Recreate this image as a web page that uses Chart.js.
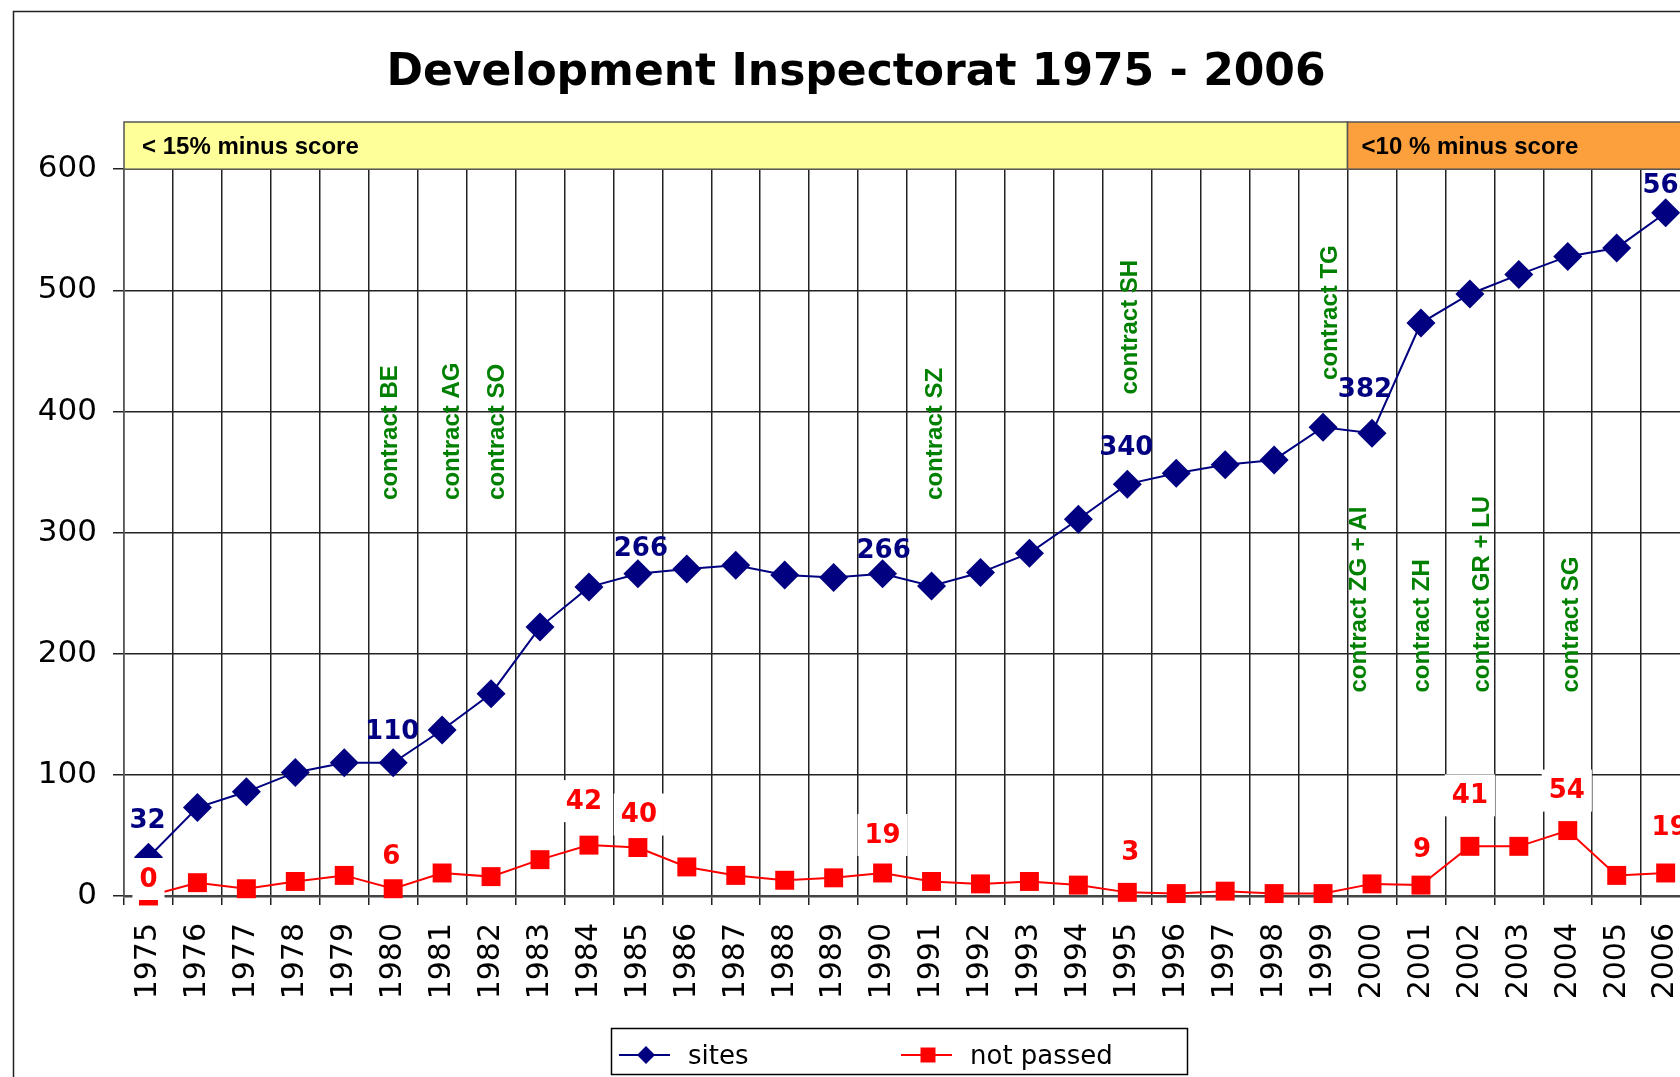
<!DOCTYPE html>
<html>
<head>
<meta charset="utf-8">
<title>Development Inspectorat 1975 - 2006</title>
<script src="https://cdn.jsdelivr.net/npm/chart.js@4.4.1/dist/chart.umd.min.js"></script>
<style>
  html, body { margin: 0; padding: 0; background: #fff; overflow: hidden; }
  #chart { display: block; }
</style>
</head>
<body>
<canvas id="chart" width="1720" height="1120"></canvas>
<script>
// ---- data ----
const years = ['1975', '1976', '1977', '1978', '1979', '1980', '1981', '1982', '1983', '1984',
  '1985', '1986', '1987', '1988', '1989', '1990', '1991', '1992', '1993', '1994', '1995',
  '1996', '1997', '1998', '1999', '2000', '2001', '2002', '2003', '2004', '2005', '2006'];
const sites = [32, 73, 86, 102, 110, 110, 137, 167, 222, 255, 266, 270, 273, 265, 263, 266,
  256, 267, 283, 311, 340, 349, 356, 360, 387, 382, 473, 497, 513, 528, 535, 564];
const notPassed = [0, 11, 6, 12, 17, 6, 19, 16, 30, 42, 40, 24, 17, 13, 15, 19,
  12, 10, 12, 9, 3, 2, 4, 2, 2, 10, 9, 41, 41, 54, 17, 19];
const yTicks = [0, 100, 200, 300, 400, 500, 600];

// years whose value is written next to the point
const sitesLabelYears = ['1975', '1980', '1985', '1990', '1995', '2000', '2006'];
const notPassedLabelYears = ['1975', '1980', '1984', '1985', '1990', '1995', '2001', '2002', '2004', '2006'];

// contract notes: year, text, value on the y axis where the text starts
const contractYears = ['1980', '1981', '1982', '1991', '1995', '1999', '2000', '2001', '2002', '2004'];
const contractTexts = ['contract BE', 'contract AG', 'contract SO', 'contract SZ', 'contract SH',
  'contract TG', 'contract ZG + AI', 'contract ZH', 'contract GR + LU', 'contract SG'];
const contractStart = [327, 327, 327, 327, 414, 426, 168, 168, 168, 168];

// score bands over the plot
const bandFrom = ['1975', '2000'];
const bandTo = ['1999', '2006'];
const bandTexts = ['< 15% minus score', '<10 % minus score'];

// ---- placement nudges (px, dx / dy above point) ----
const sitesLabelNudge = { '1975': [-1, 36], '1980': [-1, 31], '1985': [3, 25], '1990': [1, 23],
  '1995': [-1, 36], '2000': [-7, 43], '2006': [4, 27] };
const notPassedLabelNudge = { '1975': [0, 17], '1980': [-2, 32], '1984': [-5, 44], '1985': [1, 33],
  '1990': [0, 38], '1995': [3, 40], '2001': [1, 36], '2002': [0, 51], '2004': [-1, 40], '2006': [4, 46] };
const contractNudge = [-3, 10, 6, 4, 3, 7, -13, 1, 12, 4];
const bandColors = ['#FFFF99', '#FBA03C'];

const NAVY = '#000080';
const RED = '#FF0000';

Chart.defaults.font.family = 'DejaVu Sans';
Chart.defaults.color = '#000';

const framePlugin = {
  id: 'frame',
  beforeDraw(chart) {
    const ctx = chart.ctx;
    ctx.save();
    ctx.fillStyle = '#fff';
    ctx.fillRect(0, 0, chart.width, chart.height);
    ctx.strokeStyle = '#222';
    ctx.lineWidth = 1.5;
    ctx.strokeRect(13.5, 11.5, 1686, 1100);
    ctx.restore();
  }
};

const contractPlugin = {
  id: 'contracts',
  beforeDatasetsDraw(chart) {
    const { ctx, scales: { x, y } } = chart;
    ctx.save();
    ctx.fillStyle = '#008000';
    ctx.font = 'bold 24px "Liberation Sans"';
    ctx.textAlign = 'left';
    ctx.textBaseline = 'middle';
    contractYears.forEach((yr, i) => {
      const px = x.getPixelForValue(years.indexOf(yr)) + contractNudge[i];
      const py = y.getPixelForValue(contractStart[i]);
      ctx.save();
      ctx.translate(px, py);
      ctx.rotate(-Math.PI / 2);
      ctx.fillText(contractTexts[i], 0, 0);
      ctx.restore();
    });
    ctx.restore();
  }
};

const valueLabelPlugin = {
  id: 'valueLabels',
  afterDatasetsDraw(chart) {
    const ctx = chart.ctx;
    ctx.save();
    ctx.textAlign = 'center';
    ctx.textBaseline = 'middle';
    // not passed: red, on white boxes
    const redMeta = chart.getDatasetMeta(1);
    ctx.font = 'bold 26px "DejaVu Sans"';
    notPassedLabelYears.forEach(yr => {
      const i = years.indexOf(yr);
      const pt = redMeta.data[i];
      const [dx, dy] = notPassedLabelNudge[yr];
      const txt = String(notPassed[i]);
      const cx = pt.x + dx, cy = pt.y - dy;
      const w = ctx.measureText(txt).width + 14;
      ctx.fillStyle = '#fff';
      ctx.fillRect(cx - w / 2, cy - 21, w, 42);
      ctx.fillStyle = RED;
      ctx.fillText(txt, cx, cy + 1);
    });
    // sites: navy
    const blueMeta = chart.getDatasetMeta(0);
    ctx.font = 'bold 26px "DejaVu Sans"';
    ctx.fillStyle = NAVY;
    sitesLabelYears.forEach(yr => {
      const i = years.indexOf(yr);
      const pt = blueMeta.data[i];
      const [dx, dy] = sitesLabelNudge[yr];
      ctx.fillText(String(sites[i]), pt.x + dx, pt.y - dy);
    });
    ctx.restore();
  }
};

const bandPlugin = {
  id: 'bands',
  afterDraw(chart) {
    const { ctx, chartArea, scales: { x } } = chart;
    const bw = x.getPixelForValue(1) - x.getPixelForValue(0);
    const top = 122, h = chartArea.top - top;
    ctx.save();
    bandFrom.forEach((from, i) => {
      const l = x.getPixelForValue(years.indexOf(from)) - bw / 2;
      const r = x.getPixelForValue(years.indexOf(bandTo[i])) + bw / 2;
      ctx.fillStyle = bandColors[i];
      ctx.fillRect(l, top, r - l, h);
      ctx.strokeStyle = '#555';
      ctx.lineWidth = 1.5;
      ctx.strokeRect(l, top, r - l, h);
      ctx.fillStyle = '#000';
      ctx.font = 'bold 24px "Liberation Sans"';
      ctx.textAlign = 'left';
      ctx.textBaseline = 'middle';
      ctx.fillText(bandTexts[i], l + (i === 0 ? 18 : 14), top + h / 2 + 2);
    });
    ctx.restore();
  }
};

function drawMarker(ctx, style, x, y, r, color) {
  ctx.fillStyle = color;
  ctx.beginPath();
  if (style === 'rectRot') {
    ctx.moveTo(x - r, y); ctx.lineTo(x, y - r); ctx.lineTo(x + r, y); ctx.lineTo(x, y + r);
    ctx.closePath();
  } else {
    ctx.rect(x - r, y - r, 2 * r, 2 * r);
  }
  ctx.fill();
}

const legendPlugin = {
  id: 'boxLegend',
  afterDraw(chart) {
    const ctx = chart.ctx;
    ctx.save();
    ctx.strokeStyle = '#000';
    ctx.lineWidth = 1.5;
    ctx.strokeRect(611.5, 1028.5, 576, 46);
    const starts = [619, 901];
    const sizes = [9, 7.5];
    chart.data.datasets.forEach((ds, i) => {
      const x0 = starts[i], yy = 1055;
      ctx.strokeStyle = ds.borderColor;
      ctx.lineWidth = 2;
      ctx.beginPath();
      ctx.moveTo(x0, yy); ctx.lineTo(x0 + 51, yy);
      ctx.stroke();
      drawMarker(ctx, ds.pointStyle, x0 + 27, yy, sizes[i], ds.pointBackgroundColor);
      ctx.fillStyle = '#000';
      ctx.font = '26px "DejaVu Sans"';
      ctx.textAlign = 'left';
      ctx.textBaseline = 'middle';
      ctx.fillText(ds.label, x0 + 69, yy + 2);
    });
    ctx.restore();
  }
};

new Chart(document.getElementById('chart'), {
  type: 'line',
  data: {
    labels: years,
    datasets: [{
      label: 'sites',
      data: sites,
      borderColor: NAVY,
      backgroundColor: NAVY,
      pointBackgroundColor: NAVY,
      pointBorderColor: NAVY,
      borderWidth: 2,
      pointStyle: 'rectRot',
      pointRadius: 14.5,
      pointBorderWidth: 0,
      tension: 0,
      clip: false
    }, {
      label: 'not passed',
      data: notPassed,
      borderColor: RED,
      backgroundColor: RED,
      pointBackgroundColor: RED,
      pointBorderColor: RED,
      borderWidth: 2,
      pointStyle: 'rect',
      pointRadius: 13.4,
      pointBorderWidth: 0,
      tension: 0,
      clip: false
    }]
  },
  options: {
    responsive: false,
    animation: false,
    devicePixelRatio: 1,
    layout: { padding: { left: 14, right: 22, top: 0, bottom: 0 } },
    plugins: {
      legend: { display: false },
      tooltip: { enabled: false },
      title: {
        display: true,
        text: 'Development Inspectorat 1975 - 2006',
        color: '#000',
        font: { family: 'DejaVu Sans', size: 44, weight: 'bold' },
        padding: { top: 47, bottom: 69.4 }
      }
    },
    scales: {
      x: {
        offset: true,
        grid: { offset: true, color: '#222', lineWidth: 1.5, tickLength: 9, drawTicks: true },
        border: { color: '#444', width: 2.5 },
        ticks: {
          autoSkip: false, minRotation: 90, maxRotation: 90,
          padding: 18, color: '#000', font: { size: 30 }
        },
        afterFit: s => { s.height = 224; }
      },
      y: {
        min: 0, max: 600,
        grid: { color: '#222', lineWidth: 1.5, tickLength: 11 },
        border: { color: '#555', width: 1.5 },
        ticks: { padding: 16, color: '#000', font: { size: 31 } },
        afterBuildTicks: s => { s.ticks = yTicks.map(v => ({ value: v })); },
        afterFit: s => { s.width = 110; }
      }
    }
  },
  plugins: [framePlugin, contractPlugin, valueLabelPlugin, bandPlugin, legendPlugin]
});
</script>
</body>
</html>
